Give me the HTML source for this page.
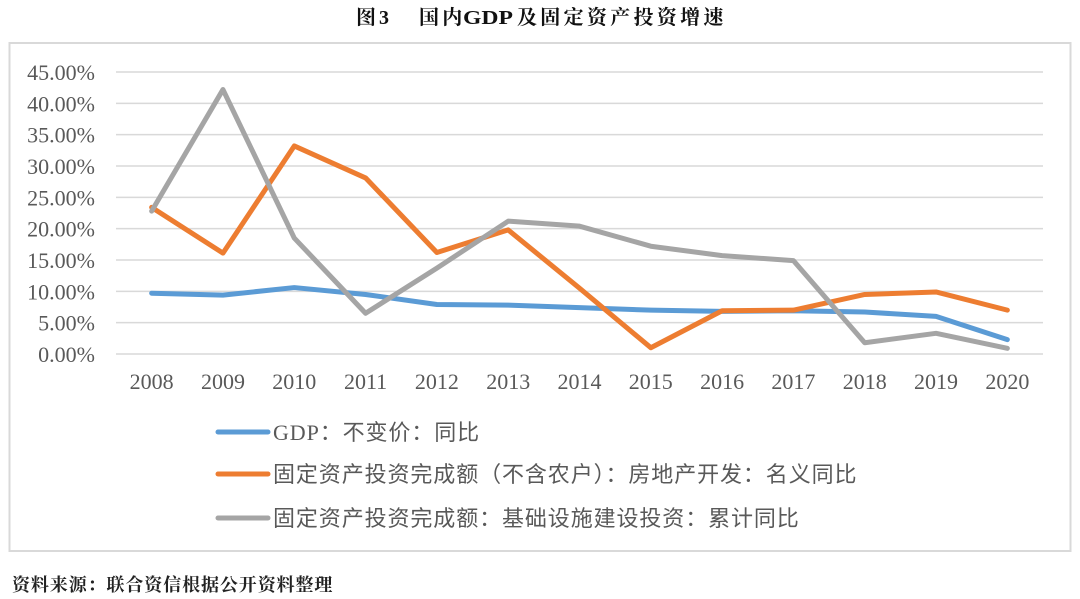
<!DOCTYPE html>
<html>
<head>
<meta charset="utf-8">
<style>
  html, body { margin:0; padding:0; background:#ffffff; }
  body { width:1080px; height:599px; overflow:hidden; }
  svg { display:block; }
</style>
</head>
<body>
<svg width="1080" height="599" viewBox="0 0 1080 599" xmlns="http://www.w3.org/2000/svg">
  <rect x="0" y="0" width="1080" height="599" fill="#ffffff"/>

  <!-- Title -->
  <g font-family="'Liberation Serif','Noto Serif CJK SC',serif" font-size="20" fill="#111111" font-weight="bold">
    <text x="356" y="24">图</text>
    <text x="379" y="24">3</text>
    <text x="419" y="24" letter-spacing="3.3">国内</text>
    <text x="463" y="24" textLength="50" lengthAdjust="spacingAndGlyphs">GDP</text>
    <text x="517" y="24" letter-spacing="3.3">及固定资产投资增速</text>
  </g>

  <!-- Chart border -->
  <rect x="9.5" y="43" width="1061" height="508" fill="#ffffff" stroke="#d9d9d9" stroke-width="2"/>

  <!-- Gridlines -->
  <g stroke="#d9d9d9" stroke-width="1.5">
    <line x1="116" y1="354" x2="1043" y2="354"/>
    <line x1="116" y1="322.67" x2="1043" y2="322.67"/>
    <line x1="116" y1="291.33" x2="1043" y2="291.33"/>
    <line x1="116" y1="260" x2="1043" y2="260"/>
    <line x1="116" y1="228.67" x2="1043" y2="228.67"/>
    <line x1="116" y1="197.33" x2="1043" y2="197.33"/>
    <line x1="116" y1="166" x2="1043" y2="166"/>
    <line x1="116" y1="134.67" x2="1043" y2="134.67"/>
    <line x1="116" y1="103.33" x2="1043" y2="103.33"/>
    <line x1="116" y1="72" x2="1043" y2="72"/>
  </g>

  <!-- Y-axis labels -->
  <g font-family="'Liberation Serif',serif" font-size="22" fill="#595959" text-anchor="end">
    <text x="95" y="362">0.00%</text>
    <text x="95" y="330.67">5.00%</text>
    <text x="95" y="299.33">10.00%</text>
    <text x="95" y="268">15.00%</text>
    <text x="95" y="236.67">20.00%</text>
    <text x="95" y="205.33">25.00%</text>
    <text x="95" y="174">30.00%</text>
    <text x="95" y="142.67">35.00%</text>
    <text x="95" y="111.33">40.00%</text>
    <text x="95" y="80">45.00%</text>
  </g>

  <!-- X-axis labels -->
  <g font-family="'Liberation Serif',serif" font-size="22" fill="#595959" text-anchor="middle">
    <text x="151.65" y="389">2008</text>
    <text x="222.96" y="389">2009</text>
    <text x="294.27" y="389">2010</text>
    <text x="365.58" y="389">2011</text>
    <text x="436.88" y="389">2012</text>
    <text x="508.19" y="389">2013</text>
    <text x="579.50" y="389">2014</text>
    <text x="650.81" y="389">2015</text>
    <text x="722.12" y="389">2016</text>
    <text x="793.42" y="389">2017</text>
    <text x="864.73" y="389">2018</text>
    <text x="936.04" y="389">2019</text>
    <text x="1007.35" y="389">2020</text>
  </g>

  <!-- Series -->
  <g fill="none" stroke-width="5" stroke-linecap="round" stroke-linejoin="round">
    <polyline stroke="#5b9bd5" points="151.65,293.21 222.96,295.09 294.27,287.57 365.58,294.47 436.88,304.49 508.19,305.12 579.50,307.63 650.81,310.13 722.12,311.39 793.42,310.76 864.73,312.01 936.04,316.40 1007.35,339.59"/>
    <polyline stroke="#ed7d31" points="151.65,207.36 222.96,253.11 294.27,145.95 365.58,177.91 436.88,252.48 508.19,229.92 579.50,288.20 650.81,347.73 722.12,310.76 793.42,310.13 864.73,294.47 936.04,291.96 1007.35,310.13"/>
    <polyline stroke="#a5a5a5" points="151.65,211.12 222.96,89.55 294.27,238.07 365.58,313.27 436.88,268.15 508.19,221.15 579.50,226.16 650.81,246.21 722.12,255.61 793.42,260.63 864.73,342.72 936.04,333.32 1007.35,348.36"/>
  </g>

  <!-- Legend -->
  <g stroke-width="5" stroke-linecap="round">
    <line x1="218" y1="432" x2="268" y2="432" stroke="#5b9bd5"/>
    <line x1="218" y1="474" x2="268" y2="474" stroke="#ed7d31"/>
    <line x1="218" y1="518" x2="268" y2="518" stroke="#a5a5a5"/>
  </g>
  <g font-family="'Liberation Serif','Noto Sans CJK SC',sans-serif" font-size="22" fill="#595959" letter-spacing="0.9">
    <text x="273" y="440">GDP：不变价：同比</text>
    <text x="273" y="482">固定资产投资完成额（不含农户）：房地产开发：名义同比</text>
    <text x="273" y="526">固定资产投资完成额：基础设施建设投资：累计同比</text>
  </g>

  <!-- Footer -->
  <text x="12" y="591" font-family="'Liberation Serif','Noto Serif CJK SC',serif" font-size="18" font-weight="bold" fill="#222222" letter-spacing="0.9">资料来源：联合资信根据公开资料整理</text>
</svg>
</body>
</html>
